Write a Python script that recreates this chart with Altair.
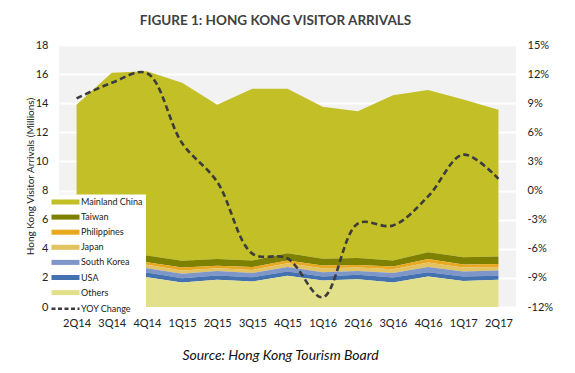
import altair as alt
import pandas as pd

quarters = ["2Q14", "3Q14", "4Q14", "1Q15", "2Q15", "3Q15", "4Q15",
            "1Q16", "2Q16", "3Q16", "4Q16", "1Q17", "2Q17"]

series_names = ["Mainland China", "Taiwan", "Philippines", "Japan",
                "South Korea", "USA", "Others"]

mainland = [10.37, 12.62, 12.67, 12.23, 10.61, 11.81, 11.30, 10.44, 10.09, 11.36, 11.13, 10.83, 10.08]
taiwan = [0.48, 0.48, 0.45, 0.46, 0.46, 0.45, 0.51, 0.46, 0.48, 0.41, 0.48, 0.50, 0.51]
philippines = [0.20, 0.20, 0.18, 0.21, 0.16, 0.19, 0.18, 0.18, 0.17, 0.18, 0.24, 0.21, 0.22]
japan = [0.25, 0.25, 0.23, 0.22, 0.19, 0.22, 0.27, 0.28, 0.23, 0.27, 0.31, 0.27, 0.24]
south_korea = [0.30, 0.30, 0.30, 0.30, 0.32, 0.28, 0.30, 0.30, 0.27, 0.30, 0.35, 0.35, 0.36]
usa = [0.30, 0.30, 0.32, 0.30, 0.29, 0.30, 0.30, 0.27, 0.30, 0.35, 0.30, 0.31, 0.27]
others = [2.00, 1.95, 2.05, 1.68, 1.87, 1.75, 2.14, 1.82, 1.91, 1.68, 2.09, 1.78, 1.87]

yoy_change = [9.5, 11.1, 12.1, 4.9, 0.9, -6.5, -7.0, -11.0, -3.4, -3.6, -0.6, 3.7, 1.2]

series_colors = ["#C3BF27", "#7E8000", "#E8A820", "#E3C35F", "#7F96C8", "#4472B0", "#E3E08C"]
line_name = "YOY Change"
line_color = "#3C3C3C"

left_ticks = [0, 2, 4, 6, 8, 10, 12, 14, 16, 18]
right_ticks = [-12, -9, -6, -3, 0, 3, 6, 9, 12, 15]

FONT = "Lato"

series_values = [mainland, taiwan, philippines, japan, south_korea, usa, others]
rows = []
for idx, (name, vals) in enumerate(zip(series_names, series_values)):
    rank = len(series_names) - 1 - idx  # Others at bottom
    for q, v in zip(quarters, vals):
        rows.append({"quarter": q, "series": name, "value": v, "rank": rank})
area_df = pd.DataFrame(rows)
line_df = pd.DataFrame({"quarter": quarters, "series": line_name, "yoy": yoy_change})

domain = series_names + [line_name]
color_range = series_colors + [line_color]

is_line = f"datum.value === '{line_name}'"
rect_path = "M-1,-0.18H1V0.18H-1Z"
dash_path = "M-1,0H1"

legend = alt.Legend(
    title=None, orient="none", legendX=-1, legendY=149.5,
    fillColor="white", padding=3, symbolSize=784, symbolOffset=0,
    labelOffset=11, labelFont=FONT, labelFontSize=9, labelColor="#222222",
    rowPadding=5.1, symbolOpacity=1,
    symbolType={"expr": f"{is_line} ? '{dash_path}' : '{rect_path}'"},
    symbolStrokeWidth={"expr": f"{is_line} ? 2.5 : 0"},
    symbolDash={"expr": f"{is_line} ? [4, 2.5] : [1, 0]"},
)

color = alt.Color("series:N", scale=alt.Scale(domain=domain, range=color_range), legend=legend)

x_enc = alt.X(
    "quarter:N", sort=quarters, scale=alt.Scale(padding=0.5),
    axis=alt.Axis(
        labelAngle=0, labelFont=FONT, labelFontSize=11, labelColor="#222222",
        labelPadding=10, domain=False, ticks=False, grid=False,
        title="Source: Hong Kong Tourism Board", titleFont=FONT, titleFontSize=14,
        titleFontStyle="italic", titleFontWeight="normal", titleColor="#111111",
        titleX=221, titleY=48, titleBaseline="middle", titleAlign="center",
    ),
)

area = alt.Chart(area_df).mark_area(opacity=1).encode(
    x=x_enc,
    y=alt.Y("value:Q", stack="zero", scale=alt.Scale(domain=[0, 18], nice=False),
            axis=alt.Axis(values=left_ticks, labelFont=FONT, labelFontSize=11,
                          labelColor="#222222", labelPadding=11, grid=True,
                          gridColor="white", gridWidth=2, domain=False, ticks=False,
                          title="Hong Kong Visitor Arrivals (Millions)", titleFont=FONT,
                          titleFontSize=10, titleFontWeight="normal", titleColor="#222222",
                          titleX=-29, titleY=131, titleAngle=-90, titleBaseline="middle",
                          titleAlign="center")),
    color=color,
    order=alt.Order("rank:Q", sort="ascending"),
)

line = alt.Chart(line_df).mark_line(
    strokeWidth=2.6, strokeDash=[6, 3.5], interpolate="catmull-rom"
).encode(
    x=alt.X("quarter:N", sort=quarters),
    y=alt.Y("yoy:Q", scale=alt.Scale(domain=[-12, 15], nice=False),
            axis=alt.Axis(orient="right", values=right_ticks, labelExpr="datum.value + '%'",
                          labelFont=FONT, labelFontSize=11, labelColor="#222222",
                          labelPadding=11, grid=False, domain=False, ticks=False, title=None)),
    color=color,
)

chart = alt.layer(area, line).resolve_scale(y="independent").properties(
    width=457, height=262,
    autosize=alt.AutoSizeParams(type="none"),
    padding={"left": 51, "top": 37, "right": 51, "bottom": 58},
    title=alt.TitleParams("FIGURE 1: HONG KONG VISITOR ARRIVALS", font=FONT, fontSize=13.5,
                          fontWeight="bold", color="#404040", anchor="middle", dx=-12,
                          offset=12),
).configure_view(fill="#F2F2F2", strokeWidth=0)

chart.save("out.html", embed_options={"renderer": "svg", "actions": False})
